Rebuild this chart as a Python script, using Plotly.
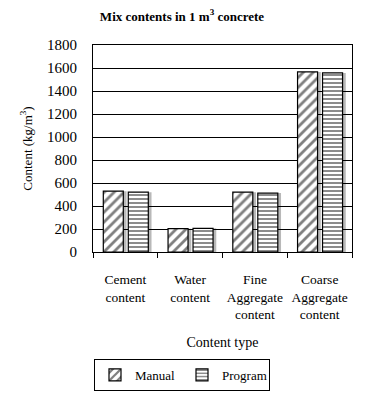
import plotly.graph_objects as go

categories = ["Cement<br>content", "Water<br>content", "Fine<br>Aggregate<br>content", "Coarse<br>Aggregate<br>content"]
manual = [529, 203, 520, 1566]
program = [520, 206, 512, 1557]
y_ticks = [0, 200, 400, 600, 800, 1000, 1200, 1400, 1600, 1800]

FONT = "Liberation Serif"
W = 0.309
OFF_M = -0.341
OFF_P = 0.045
SH = 0.05

fig = go.Figure()
for vals, off in [(manual, OFF_M), (program, OFF_P)]:
    fig.add_trace(go.Bar(x=categories, y=vals, width=W, offset=off + SH,
                         marker=dict(color="rgba(0,0,0,0.28)", line=dict(width=0)),
                         showlegend=False, hoverinfo="skip"))
fig.add_trace(go.Bar(x=categories, y=manual, name="Manual", width=W, offset=OFF_M,
                     marker=dict(color="white", line=dict(color="black", width=1.2),
                                 pattern=dict(shape="/", fgcolor="black", bgcolor="white",
                                              size=7, solidity=0.4))))
fig.add_trace(go.Bar(x=categories, y=program, name="Program", width=W, offset=OFF_P,
                     marker=dict(color="white", line=dict(color="black", width=1.2),
                                 pattern=dict(shape="-", fgcolor="black", bgcolor="white",
                                              size=4, solidity=0.45))))

fig.update_layout(
    width=370, height=403,
    margin=dict(l=93, r=18, t=45, b=148),
    barmode="overlay",
    paper_bgcolor="white", plot_bgcolor="white",
    font=dict(family=FONT, size=13, color="black"),
    title=dict(text="<b>Mix contents in 1 m<sup>3</sup> concrete</b>", x=182/370, xanchor="center",
               xref="container", y=1 - 16/403, yanchor="middle",
               font=dict(family=FONT, size=13, color="black")),
    xaxis=dict(showline=True, linecolor="black", linewidth=1, mirror=True, automargin=False,
               ticks="outside", ticklen=5, tickcolor="black", tickson="boundaries",
               ticklabelstandoff=15, tickangle=0,
               showgrid=False, tickfont=dict(family=FONT, size=13.5),
               title=dict(text="Content type", font=dict(family=FONT, size=14), standoff=15)),
    yaxis=dict(range=[0, 1800], tickvals=y_ticks, showline=True, linecolor="black",
               linewidth=1, mirror=True, showgrid=True, gridcolor="black", gridwidth=1,
               automargin=False,
               ticks="", ticklabelstandoff=12, tickfont=dict(family=FONT, size=15),
               title=dict(text="Content (kg/m<sup>3</sup>)", font=dict(family=FONT, size=13), standoff=11)),
    legend=dict(orientation="h", x=(182-93)/259, xanchor="center", y=(255-396)/210,
                yanchor="bottom", bordercolor="black", borderwidth=1,
                font=dict(family=FONT, size=13), entrywidth=42, entrywidthmode="pixels",
                tracegroupgap=0),
)

fig.write_html("out.html", config={"displayModeBar": False},
               post_script="document.body.style.margin='0';")
